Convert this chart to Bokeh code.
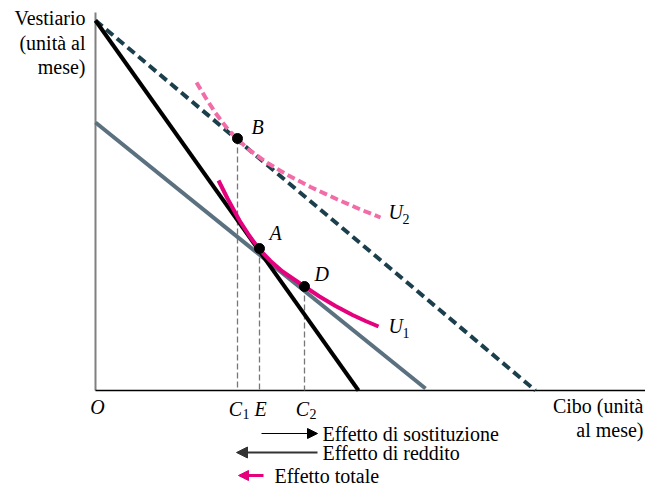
from bokeh.plotting import figure
from bokeh.models import Range1d, Arrow, NormalHead
from bokeh.core.properties import value
from bokeh.embed import file_html
from bokeh.resources import INLINE

# ---- data (units of Cibo / Vestiario per month) ----
budget_orig_x = [0.0, 26.3]      # black budget line
budget_orig_y = [37.0, 0.0]
budget_comp_x = [0.0, 44.0]      # dashed (compensated) budget line
budget_comp_y = [37.0, 0.0]
budget_new_x = [0.0, 33.0]       # grey budget line
budget_new_y = [26.8, 0.2]

U2_x = [10.1, 11.0, 12.0, 13.1, 14.2, 15.5, 17.2, 19.2, 21.5, 24.2, 26.5, 28.5]
U2_y = [30.8, 29.3, 27.75, 26.3, 25.1, 23.95, 22.75, 21.55, 20.35, 19.1, 18.1, 17.3]
U1_x = [12.3, 13.2, 14.4, 15.4, 16.4, 17.5, 18.7, 19.8, 20.9, 22.4, 24.0, 25.7, 27.0, 28.3]
U1_y = [21.0, 19.2, 17.0, 15.45, 14.1, 12.95, 11.9, 11.15, 10.4, 9.4, 8.45, 7.55, 6.95, 6.4]

pt_names = ["B", "A", "D"]
pt_x = [14.2, 16.4, 20.9]
pt_y = [25.2, 14.2, 10.4]

y_label_lines = ["Vestiario", "(unità al", "mese)"]
x_label_lines = ["Cibo (unità", "al mese)"]
legend_texts = ["Effetto di sostituzione", "Effetto di reddito", "Effetto totale"]

SERIF = value("Liberation Serif")

p = figure(width=645, height=485, output_backend="svg", toolbar_location=None,
           x_range=Range1d(-9.5, 55.0), y_range=Range1d(-9.5, 39.0),
           min_border=0, background_fill_color="white", border_fill_color="white")
p.axis.visible = False
p.grid.visible = False
p.outline_line_color = None

# axes lines
p.line([0, 0], [0, 37.8], line_color="#808080", line_width=2)
p.line([0, 56], [0, 0], line_color="black", line_width=1.6)

# vertical guides
p.segment(x0=pt_x, y0=pt_y, x1=pt_x, y1=[0, 0, 0], line_color="#777777",
          line_width=1.3, line_dash="6 3")

# budget lines
p.line(budget_new_x, budget_new_y, line_color="#5b7180", line_width=4)
p.line(budget_comp_x, budget_comp_y, line_color="#1b3f4d", line_width=4, line_dash="9 5")
p.line(budget_orig_x, budget_orig_y, line_color="black", line_width=4)

# indifference curves
p.line(U2_x, U2_y, line_color="#f26ca7", line_width=4, line_dash="8 4")
p.line(U1_x, U1_y, line_color="#e5007d", line_width=4)

# points
p.scatter(pt_x, pt_y, size=10, fill_color="black", line_color="black")

# point labels
p.text(x=[15.6, 17.4, 21.9], y=[26.4, 15.8, 11.7], text=pt_names,
       text_font=SERIF, text_font_style="italic", text_font_size="20px",
       text_baseline="middle", text_align="left", text_color="black")

# U labels
p.text(x=[29.3, 29.3], y=[17.9, 6.5], text=["U", "U"], text_font=SERIF,
       text_font_style="italic", text_font_size="20px", text_baseline="middle",
       text_align="left")
p.text(x=[30.7, 30.7], y=[17.2, 5.8], text=["2", "1"], text_font=SERIF,
       text_font_size="14px", text_baseline="middle", text_align="left")

# x-axis point labels
p.text(x=[0.2], y=[-1.6], text=["O"], text_font=SERIF, text_font_style="italic",
       text_font_size="20px", text_baseline="middle", text_align="center")
p.text(x=[pt_x[0] - 0.2, pt_x[1] + 0.1, pt_x[2] - 0.2], y=[-1.8, -1.8, -1.8],
       text=["C", "E", "C"], text_font=SERIF, text_font_style="italic",
       text_font_size="20px", text_baseline="middle", text_align="center")
p.text(x=[pt_x[0] + 0.5, pt_x[2] + 0.5], y=[-2.35, -2.35], text=["1", "2"],
       text_font=SERIF, text_font_size="14px", text_baseline="middle",
       text_align="left")

# axis titles
p.text(x=[-1.0] * 3, y=[37.3, 34.8, 32.4], text=y_label_lines, text_font=SERIF,
       text_font_size="20px", text_baseline="middle", text_align="right")
p.text(x=[54.8] * 2, y=[-1.5, -3.9], text=x_label_lines, text_font=SERIF,
       text_font_size="20px", text_baseline="middle", text_align="right")

# legend texts
p.text(x=[22.7, 22.7, 17.9], y=[-4.3, -6.2, -8.5], text=legend_texts, text_font=SERIF,
       text_font_size="20px", text_baseline="middle", text_align="left")

# arrows
p.add_layout(Arrow(end=NormalHead(size=10, fill_color="black", line_color="black"),
                   x_start=16.6, y_start=-4.3, x_end=22.2, y_end=-4.3,
                   line_color="black", line_width=1.2))
p.add_layout(Arrow(end=NormalHead(size=11, fill_color="#333333", line_color="#333333"),
                   x_start=22.2, y_start=-6.2, x_end=14.1, y_end=-6.2,
                   line_color="#333333", line_width=2))
p.add_layout(Arrow(end=NormalHead(size=10, fill_color="#e5007d", line_color="#e5007d"),
                   x_start=16.8, y_start=-8.5, x_end=14.3, y_end=-8.5,
                   line_color="#e5007d", line_width=3))

open("out.html", "w").write(file_html(p, INLINE))
